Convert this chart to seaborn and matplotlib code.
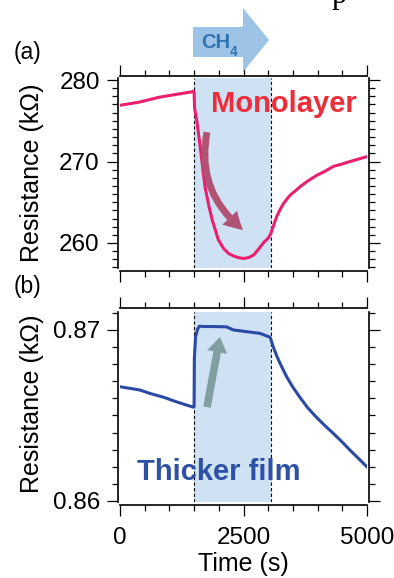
import matplotlib
matplotlib.use("Agg")
import matplotlib.pyplot as plt
import seaborn as sns
from matplotlib.patches import FancyArrowPatch, Polygon
from matplotlib.ticker import FixedLocator, MultipleLocator, FormatStrFormatter

# ---- data -------------------------------------------------------------
# (a) monolayer sensor response
time_mono = [0, 200, 400, 600, 800, 1000, 1200, 1400, 1490, 1500, 1510, 1553,
             1600, 1640, 1680, 1721, 1800, 1869, 1990, 2100, 2200, 2300, 2400,
             2500, 2600, 2700, 2800, 2900, 3000, 3050, 3100, 3170, 3240, 3306,
             3380, 3450, 3550, 3644, 3800, 3981, 4150, 4318, 4500, 4656, 4830,
             5000]
res_mono = [276.9, 277.1, 277.3, 277.6, 277.9, 278.1, 278.3, 278.5, 278.6,
            278.5, 276.5, 275.1, 272.9, 271.0, 268.9, 266.9, 264.5, 262.8,
            260.4, 259.3, 258.7, 258.4, 258.2, 258.1, 258.2, 258.5, 259.2,
            260.0, 260.6, 261.1, 262.0, 263.2, 264.1, 264.8, 265.4, 265.9,
            266.4, 266.9, 267.6, 268.3, 268.8, 269.4, 269.7, 270.0, 270.3,
            270.6]

# (b) thicker film sensor response
time_thick = [0, 400, 605, 900, 1080, 1300, 1490, 1500, 1505, 1530, 1570, 1606,
              1700, 1900, 2159, 2294, 2564, 2834, 3040, 3070, 3104, 3170, 3239,
              3374, 3500, 3644, 3800, 3981, 4150, 4318, 4490, 4656, 4830, 5000]
res_thick = [0.86668, 0.86649, 0.86629, 0.86605, 0.86586, 0.86565, 0.86548,
             0.86556, 0.86834, 0.86960, 0.87005, 0.87022, 0.87020, 0.87020,
             0.87018, 0.87000, 0.86990, 0.86980, 0.86957, 0.86930, 0.86900,
             0.86850, 0.86805, 0.86726, 0.86665, 0.86605, 0.86545, 0.86488,
             0.86440, 0.86395, 0.86347, 0.86297, 0.86248, 0.86199]

# gas exposure window (s)
ch4_on, ch4_off = 1500, 3050

x_ticks = [0, 2500, 5000]
y_ticks_mono = [260, 270, 280]
y_ticks_thick = [0.86, 0.87]

# ---- style ------------------------------------------------------------
sns.set_style("ticks")
plt.rcParams["font.family"] = ["Liberation Sans", "DejaVu Sans"]
plt.rcParams.update({"text.color": "black", "axes.labelcolor": "black",
                     "xtick.color": "black", "ytick.color": "black",
                     "axes.edgecolor": "black"})

W, H = 394, 578
fig = plt.figure(figsize=(W / 100, H / 100), dpi=100)

pink = "#ec1e6e"
blue = "#2a4aa6"
shade = "#cfe2f3"


def px(x, y):
    return x / W, 1 - y / H


def style_axes(ax, top_off, bot_off):
    for side in ["left", "right", "top", "bottom"]:
        ax.spines[side].set_visible(True)
        ax.spines[side].set_linewidth(1.2)
        ax.spines[side].set_color("black")
    ax.spines["left"].set_position(("outward", 1.5))
    ax.spines["right"].set_position(("outward", 1.5))
    ax.spines["top"].set_position(("outward", top_off))
    ax.spines["bottom"].set_position(("outward", bot_off))
    ax.tick_params(which="both", direction="out", top=True, right=True,
                   width=0.9, color="black", labelcolor="black",
                   labelsize=17.5)
    ax.tick_params(which="major", length=8)
    ax.tick_params(which="minor", length=4.5)
    ax.tick_params(axis="y", pad=5)
    ax.tick_params(axis="x", pad=8)
    ax.set_xlim(0, 5000)
    ax.xaxis.set_major_locator(FixedLocator(x_ticks))
    ax.xaxis.set_minor_locator(MultipleLocator(500))
    ax.axvspan(ch4_on, ch4_off, color=shade, lw=0, zorder=0)
    for xv in (ch4_on, ch4_off):
        ax.axvline(xv, color="black", lw=0.8, ls=(0, (3, 2)), zorder=1)


# ---- (a) monolayer ------------------------------------------------------
ax_a = fig.add_axes([120 / W, 1 - 268 / H, 247 / W, 190 / H])
style_axes(ax_a, 1.5, 2.2)
sns.lineplot(x=time_mono, y=res_mono, ax=ax_a, color=pink, lw=2.2,
             estimator=None, zorder=3)
ax_a.set_ylim(256.93, 280.25)
ax_a.yaxis.set_major_locator(FixedLocator(y_ticks_mono))
ax_a.yaxis.set_minor_locator(MultipleLocator(1))
ax_a.tick_params(labelbottom=False)
ax_a.set_xlabel("")
ax_a.set_ylabel("Resistance (kΩ)", fontsize=18)
ax_a.yaxis.set_label_coords(44.5 / W, 1 - 173 / H, transform=fig.transFigure)
ax_a.text(1842, 276.1, "Monolayer", color="#ee2d3a", fontsize=21,
          fontweight="bold", ha="left", va="baseline", zorder=4)
ax_a.add_patch(FancyArrowPatch(
    (1761, 273.6), (2490, 261.6), connectionstyle="arc3,rad=0.3",
    arrowstyle="simple,head_width=1.45,head_length=1.3,tail_width=0.5",
    mutation_scale=10, color="#b05374", lw=0, shrinkA=0, shrinkB=0, zorder=4))

# ---- (b) thicker film ---------------------------------------------------
ax_b = fig.add_axes([120 / W, 1 - 502 / H, 247 / W, 190 / H])
style_axes(ax_b, 2.9, 1.8)
sns.lineplot(x=time_thick, y=res_thick, ax=ax_b, color=blue, lw=2.2,
             estimator=None, zorder=3)
ax_b.set_ylim(0.85994, 0.87105)
ax_b.yaxis.set_major_locator(FixedLocator(y_ticks_thick))
ax_b.yaxis.set_minor_locator(MultipleLocator(0.001))
ax_b.yaxis.set_major_formatter(FormatStrFormatter("%.2f"))
ax_b.set_xticklabels([str(v) for v in x_ticks])
ax_b.set_xlabel("Time (s)", fontsize=18, labelpad=2)
ax_b.set_ylabel("Resistance (kΩ)", fontsize=18)
ax_b.yaxis.set_label_coords(44.5 / W, 1 - 404 / H, transform=fig.transFigure)
ax_b.text(344, 0.86121, "Thicker film", color="#2e50a6", fontsize=21,
          fontweight="bold", ha="left", va="baseline", zorder=4)
ax_b.add_patch(FancyArrowPatch(
    (1761, 0.86549), (2024, 0.86959),
    arrowstyle="simple,head_width=1.45,head_length=1.1,tail_width=0.55",
    mutation_scale=10, color="#829ea0", lw=0, shrinkA=0, shrinkB=0, zorder=4))

# ---- panel letters, gas arrow ----------------------------------------
fig.text(*px(14, 52), "(a)", fontsize=16.5, ha="left", va="center")
fig.text(*px(14, 286), "(b)", fontsize=16.5, ha="left", va="center")

arrow_pts = [px(193, 27), px(243, 27), px(243, 8), px(269, 40),
             px(243, 72), px(243, 57), px(193, 57)]
fig.patches.append(Polygon(arrow_pts, closed=True, transform=fig.transFigure,
                           facecolor="#9dc3e6", edgecolor="none", zorder=5))
fig.text(*px(201, 48), "CH", fontsize=14.5, fontweight="bold",
         color="#2e75b6", ha="left", va="baseline", zorder=6)
fig.text(*px(230, 56), "4", fontsize=10, fontweight="bold",
         color="#2e75b6", ha="left", va="baseline", zorder=6)

fig.text(*px(339, 3), "p", fontsize=22, family=["Liberation Serif"],
         ha="center", va="baseline")

fig.savefig("out.png", dpi=100)
